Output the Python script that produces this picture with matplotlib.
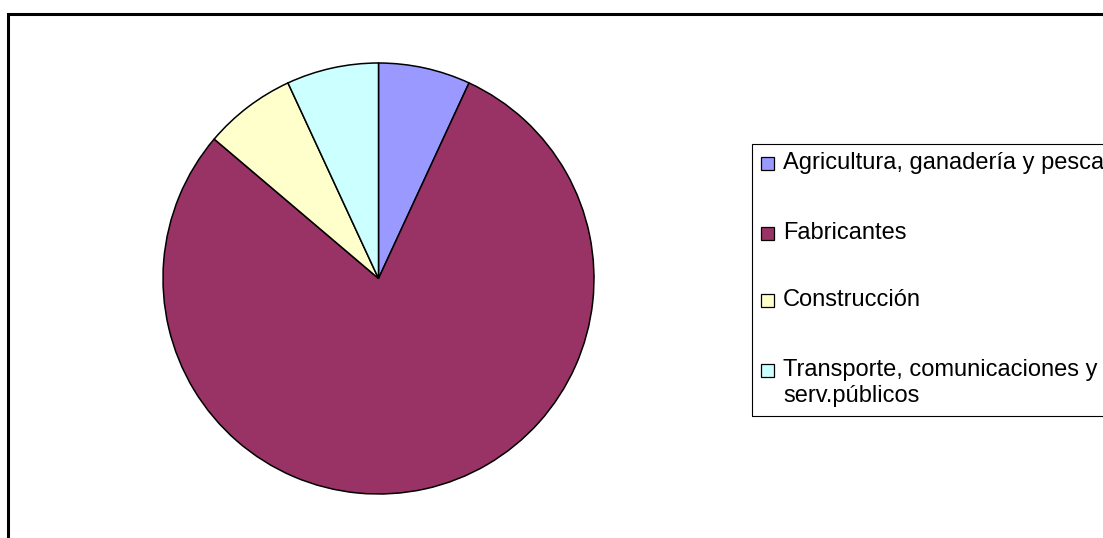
import matplotlib
matplotlib.use("Agg")
import matplotlib.pyplot as plt
from matplotlib.patches import Rectangle

plt.rcParams['font.family'] = ['Liberation Sans', 'DejaVu Sans']

# sector shares (%)
labels = ['Agricultura, ganadería y pesca', 'Fabricantes', 'Construcción',
          'Transporte, comunicaciones y\nserv.públicos']
values = [6.9, 79.3, 6.9, 6.9]
colors = ['#9999FF', '#993366', '#FFFFCC', '#CCFFFF']

W, H = 1103, 538
fig = plt.figure(figsize=(W / 100, H / 100), dpi=100)

def fx(px):
    return px / W

def fy(py):
    return 1 - py / H

# outer chart border (right/bottom run off the picture)
fig.patches.append(Rectangle((fx(8), fy(600)), fx(1200), fy(14) - fy(600),
                             transform=fig.transFigure, fill=False,
                             edgecolor='black', linewidth=2.2))

# pie
cx, cy, r = 378.5, 278.5, 215.5
ax = fig.add_axes([fx(cx - r), fy(cy + r), fx(2 * r), (2 * r) / H])
wedges, _ = ax.pie(values, colors=colors, startangle=90, counterclock=False,
                   wedgeprops=dict(edgecolor='black', linewidth=1.1, clip_on=False))
ax.set_xlim(-1, 1)
ax.set_ylim(-1, 1)
ax.axis('off')

# legend box
fig.patches.append(Rectangle((fx(752), fy(416)), fx(500), fy(144) - fy(416),
                             transform=fig.transFigure, fill=False,
                             edgecolor='black', linewidth=0.8))
baselines = [169, 239, 306, 376]
line_gap = 26
for lab, col, yb in zip(labels, colors, baselines):
    fig.patches.append(Rectangle((fx(761), fy(yb + 1)), fx(13), fy(yb - 12) - fy(yb + 1),
                                 transform=fig.transFigure, facecolor=col,
                                 edgecolor='black', linewidth=0.9))
    for i, line in enumerate(lab.split('\n')):
        fig.text(fx(783), fy(yb + i * line_gap), line, fontsize=17,
                 va='baseline', ha='left')

fig.savefig('out.png', dpi=100)
